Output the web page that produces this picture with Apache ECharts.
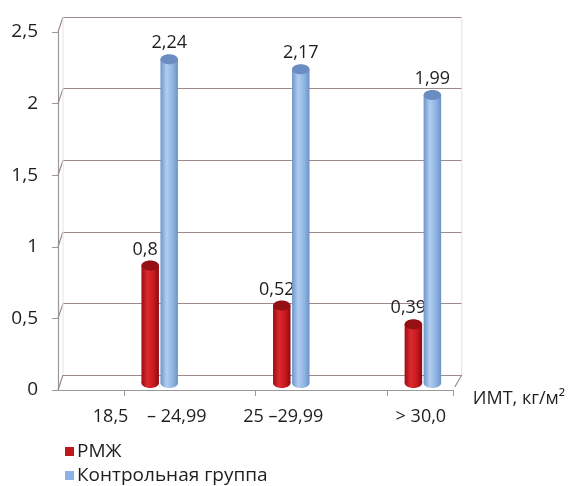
<!DOCTYPE html>
<html>
<head>
<meta charset="utf-8">
<script src="https://cdn.jsdelivr.net/npm/echarts@6.0.0/dist/echarts.min.js"></script>
<style>
  html, body { margin: 0; padding: 0; background: #ffffff; }
  #chart { width: 568px; height: 486px; }
</style>
</head>
<body>
<div id="chart"></div>
<script>
// BMI groups and their values
const categories = ['18,5    – 24,99', '25 –29,99', '> 30,0'];
const seriesNames = ['РМЖ', 'Контрольная группа'];
const rmzh = [0.8, 0.52, 0.39];
const control = [2.24, 2.17, 1.99];
const yTicks = [0, 0.5, 1, 1.5, 2, 2.5];
const xTitle = 'ИМТ, кг/м²';

// Each group occupies the second half of a pair of slots on the axis
const slots = [];
categories.forEach(c => { slots.push(''); slots.push(c); });

const FONT = '"Open Sans", "Noto Sans", sans-serif';
const DEPTH_X = 5, DEPTH_Y = 15;
const GRID_COLOR = '#9c8c88';
const AXIS_COLOR = '#9a9a9a';
const TEXT_COLOR = '#1e1e1e';

const fmt = v => String(v).replace('.', ',');

const palettes = [
  { body: ['#9c0d12', '#dc2a2f', '#c8191e', '#8a0b0f'], cap: '#941014', legend: '#c0171c' },
  { body: ['#6d96ca', '#b0cdef', '#8fb5e3', '#6a92c6'], cap: '#6a8cc0', legend: '#8db3e2' }
];

function cylinder(seriesIdx) {
  const pal = palettes[seriesIdx];
  return function (params, api) {
    const idx = api.value(0), v = api.value(1);
    const top = api.coord([idx, v]);
    const base = api.coord([idx, 0]);
    const w = 17.5, ry = 5;
    const cx = top[0] + 3 + (seriesIdx === 0 ? -9.5 : 9.5);
    const yTop = top[1] - DEPTH_Y;
    const yBot = base[1] - 2;
    const grad = new echarts.graphic.LinearGradient(0, 0, 1, 0, [
      { offset: 0, color: pal.body[0] },
      { offset: 0.35, color: pal.body[1] },
      { offset: 0.7, color: pal.body[2] },
      { offset: 1, color: pal.body[3] }
    ]);
    return {
      type: 'group',
      children: [
        { type: 'ellipse', shape: { cx: cx, cy: yBot - ry, rx: w / 2, ry: ry }, style: { fill: grad } },
        { type: 'rect', shape: { x: cx - w / 2, y: yTop + ry, width: w, height: yBot - yTop - 2 * ry }, style: { fill: grad } },
        { type: 'ellipse', shape: { cx: cx, cy: yTop + ry, rx: w / 2, ry: ry }, style: { fill: pal.cap } },
        {
          type: 'text',
          x: cx - (seriesIdx === 0 ? 5 : 0),
          y: yTop - 2,
          style: {
            text: fmt(v), fill: TEXT_COLOR, font: '18px ' + FONT,
            align: 'center', verticalAlign: 'bottom'
          }
        }
      ]
    };
  };
}

// Back wall, floor edges and the slanted links from the axis ticks
function frame(params, api) {
  const cs = params.coordSys;
  const x0 = cs.x, x1 = cs.x + cs.width;
  const children = [];
  yTicks.forEach(t => {
    const y = api.coord([0, t])[1];
    children.push({ type: 'line', shape: { x1: x0, y1: y, x2: x0 + DEPTH_X, y2: y - DEPTH_Y },
      style: { stroke: GRID_COLOR, lineWidth: 1.2 } });
  });
  const yTop = api.coord([0, yTicks[yTicks.length - 1]])[1] - DEPTH_Y;
  const y0 = api.coord([0, 0])[1];
  children.push({ type: 'line', shape: { x1: x0 + DEPTH_X, y1: yTop, x2: x0 + DEPTH_X, y2: y0 - DEPTH_Y },
    style: { stroke: '#e6e2e2', lineWidth: 1 } });
  children.push({ type: 'line', shape: { x1: x1 + 9, y1: yTop, x2: x1 + 9, y2: y0 - DEPTH_Y },
    style: { stroke: '#e6e2e2', lineWidth: 1 } });
  children.push({ type: 'line', shape: { x1: x1 + 9, y1: y0 - DEPTH_Y, x2: x1 + 2, y2: y0 - 3 },
    style: { stroke: GRID_COLOR, lineWidth: 1.2 } });
  return { type: 'group', children: children, silent: true };
}

const chart = echarts.init(document.getElementById('chart'), null, { renderer: 'canvas' });

const legendBase = {
  left: 60,
  itemWidth: 9, itemHeight: 9,
  icon: 'rect',
  textStyle: { fontSize: 19, color: TEXT_COLOR, fontFamily: FONT, padding: [0, 0, 0, -2] }
};

// per-group label nudges along the axis
const labelRich = {
  g0: { fontSize: 18, color: TEXT_COLOR, fontFamily: FONT, padding: [0, 14, 0, 0] },
  g1: { fontSize: 18, color: TEXT_COLOR, fontFamily: FONT, padding: [0, 10, 0, 0] },
  g2: { fontSize: 18, color: TEXT_COLOR, fontFamily: FONT, padding: [0, 0, 0, 2] }
};

chart.setOption({
  backgroundColor: '#ffffff',
  animation: false,
  textStyle: { fontFamily: FONT },
  legend: [
    Object.assign({}, legendBase, { top: 437, data: [seriesNames[0]] }),
    Object.assign({}, legendBase, { top: 461, data: [seriesNames[1]] })
  ],
  grid: [
    { left: 58, right: 115, top: 32, bottom: 96 },
    { left: 63, right: 106, top: 17, bottom: 111 }
  ],
  xAxis: [
    {
      type: 'category', gridIndex: 0, data: slots,
      boundaryGap: true,
      name: xTitle, nameLocation: 'end', nameGap: 20,
      nameTextStyle: { fontSize: 18, color: TEXT_COLOR, fontFamily: FONT, verticalAlign: 'top', align: 'left' },
      axisLine: { show: true, lineStyle: { color: AXIS_COLOR, width: 1.2 } },
      axisTick: { show: true, length: 6, lineStyle: { color: AXIS_COLOR } },
      axisLabel: {
        interval: (i) => i % 2 === 1,
        margin: 18,
        formatter: (value, index) => '{g' + ((index - 1) / 2) + '|' + value + '}',
        rich: labelRich
      },
      splitLine: { show: false }
    },
    {
      type: 'category', gridIndex: 1, data: slots,
      axisLine: { show: false }, axisTick: { show: false }, axisLabel: { show: false }
    }
  ],
  yAxis: [
    {
      type: 'value', gridIndex: 0, min: 0, max: 2.5, interval: 0.5,
      axisLine: { show: true, lineStyle: { color: AXIS_COLOR, width: 1.2 } },
      axisTick: { show: true, length: 6, lineStyle: { color: AXIS_COLOR } },
      axisLabel: { fontSize: 19, color: TEXT_COLOR, fontFamily: FONT, margin: 20, formatter: fmt },
      splitLine: { show: false }
    },
    {
      type: 'value', gridIndex: 1, min: 0, max: 2.5, interval: 0.5,
      axisLine: { show: false }, axisTick: { show: false }, axisLabel: { show: false },
      splitLine: { show: true, lineStyle: { color: GRID_COLOR, width: 1.2 } }
    }
  ],
  series: [
    {
      type: 'custom', name: 'frame', xAxisIndex: 0, yAxisIndex: 0,
      silent: true, renderItem: frame, data: [[0, 0]], z: 1
    },
    {
      type: 'custom', name: seriesNames[0], xAxisIndex: 0, yAxisIndex: 0,
      itemStyle: { color: palettes[0].legend },
      renderItem: cylinder(0), z: 3,
      data: rmzh.map((v, i) => [2 * i + 1, v])
    },
    {
      type: 'custom', name: seriesNames[1], xAxisIndex: 0, yAxisIndex: 0,
      itemStyle: { color: palettes[1].legend },
      renderItem: cylinder(1), z: 3,
      data: control.map((v, i) => [2 * i + 1, v])
    }
  ]
});
</script>
</body>
</html>
